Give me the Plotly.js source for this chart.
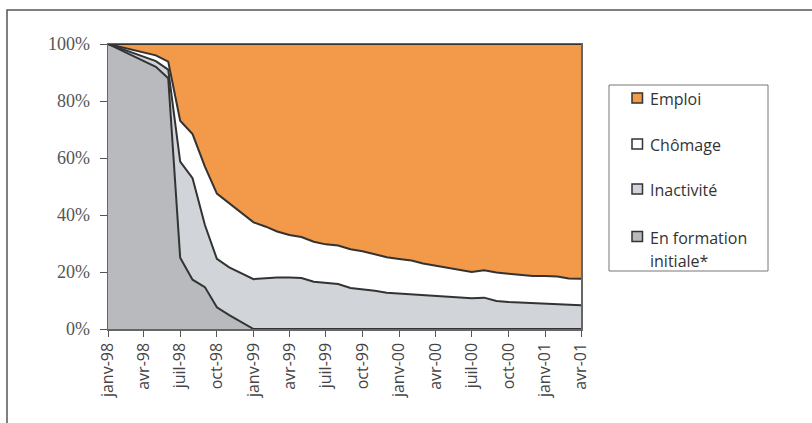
<!DOCTYPE html>
<html>
<head>
<meta charset="utf-8">
<script src="https://cdn.plot.ly/plotly-3.0.1.min.js"></script>
<style>
html,body{margin:0;padding:0;background:#fff;}
#chart{width:812px;height:423px;}
</style>
</head>
<body>
<div id="chart"></div>
<script>
// ---- Data (shares in %) ----
const months = [
  '1998-01-01','1998-05-01','1998-06-01','1998-07-01','1998-08-01','1998-09-01','1998-10-01','1998-11-01',
  '1999-01-01','1999-02-01','1999-03-01','1999-04-01','1999-05-01','1999-06-01','1999-07-01','1999-08-01',
  '1999-09-01','1999-10-01','1999-11-01','1999-12-01',
  '2000-01-01','2000-02-01','2000-03-01','2000-04-01','2000-05-01','2000-06-01','2000-07-01','2000-08-01',
  '2000-09-01','2000-10-01','2000-11-01','2000-12-01',
  '2001-01-01','2001-02-01','2001-03-01','2001-04-01'
];
const formation = [100, 92, 88, 25, 17.3, 14.7, 7.6, 4.9,
  0,0,0,0,0,0,0,0, 0,0,0,0, 0,0,0,0,0,0,0,0, 0,0,0,0, 0,0,0,0];
const inactivite = [0, 2, 3, 33.7, 35.6, 21.8, 17.0, 16.7,
  17.5, 17.9, 18.1, 18.1, 17.9, 16.6, 16.3, 15.8, 14.4, 14.0, 13.4, 12.7,
  12.4, 12.1, 11.8, 11.5, 11.2, 10.9, 10.8, 11.0, 9.8, 9.5, 9.3, 9.1,
  8.9, 8.7, 8.4, 8.3];
const chomage = [0, 2, 2.8, 14.4, 15.5, 20.5, 22.9, 22.5,
  19.9, 18.0, 16.1, 14.9, 14.4, 14.0, 13.4, 13.5, 13.6, 13.3, 12.9, 12.5,
  12.2, 11.9, 11.2, 10.7, 10.2, 9.7, 9.2, 9.6, 10.0, 9.9, 9.7, 9.5,
  9.7, 9.7, 9.3, 9.3];
const emploi = [0, 4, 6.2, 26.9, 31.6, 43.0, 52.5, 55.9,
  62.6, 64.1, 65.8, 67.0, 67.7, 69.4, 70.3, 70.7, 72.0, 72.7, 73.7, 74.8,
  75.4, 76.0, 77.0, 77.8, 78.6, 79.4, 80.0, 79.4, 80.2, 80.6, 81.0, 81.4,
  81.4, 81.6, 82.3, 82.4];

const tickVals = ['1998-01-01','1998-04-01','1998-07-01','1998-10-01','1999-01-01','1999-04-01','1999-07-01',
  '1999-10-01','2000-01-01','2000-04-01','2000-07-01','2000-10-01','2001-01-01','2001-04-01'];
const tickText = ['janv-98','avr-98','juil-98','oct-98','janv-99','avr-99','juil-99',
  'oct-99','janv-00','avr-00','juil-00','oct-00','janv-01','avr-01'];
const yTickVals = [0, 20, 40, 60, 80, 100];
const yTickText = ['0%','20%','40%','60%','80%','100%'];

const seriesNames = ['Emploi','Chômage','Inactivité','En formation'];
const seriesNameLine2 = 'initiale*';
const colors = {emploi:'#F2994A', chomage:'#FFFFFF', inactivite:'#D1D4D8', formation:'#B8BABE'};

// ---- Layout helpers (pixel -> paper) ----
const L = 108, R = 581, T = 44, B = 329, W = 812, H = 423;
const px = v => (v - L) / (R - L);
const py = v => (B - v) / (B - T);

const lineStyle = {color:'#333333', width:2};
function tr(name, y, fill) {
  return {x: months, y: y, name: name, type:'scatter', mode:'lines',
    stackgroup:'one', line: lineStyle, fillcolor: fill, hoverinfo:'skip', showlegend:false};
}
const data = [
  tr('En formation initiale*', formation, colors.formation),
  tr('Inactivité', inactivite, colors.inactivite),
  tr('Chômage', chomage, colors.chomage),
  tr('Emploi', emploi, colors.emploi)
];

const shapes = [];
const annotations = [];
// outer frame (only top and left visible)
shapes.push({type:'rect', xref:'paper', yref:'paper', x0:px(7), y0:py(440), x1:px(830), y1:py(10),
  line:{color:'#555', width:1.5}, fillcolor:'rgba(0,0,0,0)', layer:'below'});
// legend box
shapes.push({type:'rect', xref:'paper', yref:'paper', x0:px(609), y0:py(271), x1:px(768), y1:py(85),
  line:{color:'#777', width:1}, fillcolor:'rgba(0,0,0,0)'});
const legItems = [
  {label: seriesNames[0], color: colors.emploi, cy: 98},
  {label: seriesNames[1], color: colors.chomage, cy: 144},
  {label: seriesNames[2], color: colors.inactivite, cy: 189},
  {label: seriesNames[3], color: colors.formation, cy: 236.5}
];
const legFont = {family:'Open Sans, sans-serif', size:16, color:'#333'};
legItems.forEach(it => {
  shapes.push({type:'rect', xref:'paper', yref:'paper', x0:px(632), x1:px(642.5), y0:py(it.cy+5), y1:py(it.cy-5),
    line:{color:'#333', width:1.5}, fillcolor: it.color});
  annotations.push({xref:'paper', yref:'paper', x:px(648), y:py(it.cy+1), xanchor:'left', yanchor:'middle',
    text: it.label, showarrow:false, font: legFont});
});
annotations.push({xref:'paper', yref:'paper', x:px(648), y:py(261), xanchor:'left', yanchor:'middle',
  text: seriesNameLine2, showarrow:false, font: legFont});

const layout = {
  width: W, height: H,
  margin: {l: L, r: W - R, t: T, b: H - B, pad: 0},
  paper_bgcolor:'#fff', plot_bgcolor:'#fff',
  showlegend:false,
  xaxis: {type:'date', range:['1998-01-01','2001-04-01'], tickmode:'array', tickvals: tickVals, ticktext: tickText,
    tickangle:-90, ticks:'outside', ticklen:6, tickcolor:'#555', tickwidth:1,
    showline:true, linecolor:'#666', linewidth:1.5, mirror:true, showgrid:false, zeroline:false,
    tickfont:{family:'Open Sans, sans-serif', size:16, color:'#444'}},
  yaxis: {range:[0,100], tickmode:'array', tickvals: yTickVals, ticktext: yTickText, ticks:'outside', ticklen:7,
    tickcolor:'#555', tickwidth:1, showline:true, linecolor:'#666', linewidth:1.5, mirror:true,
    showgrid:false, zeroline:false, ticklabelstandoff:6,
    tickfont:{family:'Liberation Serif, serif', size:18, color:'#555'}},
  shapes: shapes,
  annotations: annotations
};

Plotly.newPlot('chart', data, layout, {staticPlot:true, displayModeBar:false});
</script>
</body>
</html>
